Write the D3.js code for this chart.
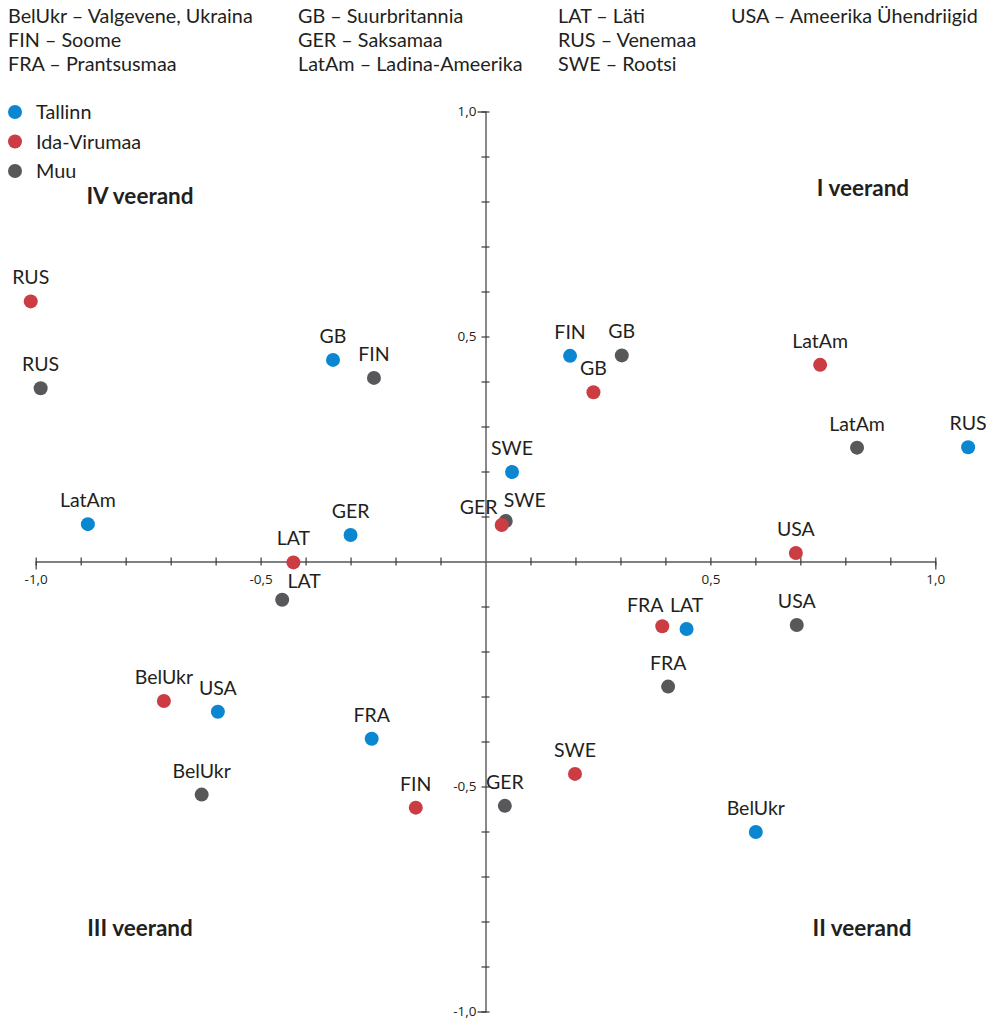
<!DOCTYPE html>
<html>
<head>
<meta charset="utf-8">
<script src="https://cdn.jsdelivr.net/npm/d3@7"></script>
<style>
  body { margin: 0; background: #fff; }
  svg text { font-family: Lato, "Open Sans", sans-serif; fill: #231f20; }
</style>
</head>
<body>
<div id="chart"></div>
<script>
// Legend for country abbreviations (4 columns)
var abbrevCols = [
  ["BelUkr – Valgevene, Ukraina", "FIN – Soome", "FRA – Prantsusmaa"],
  ["GB – Suurbritannia", "GER – Saksamaa", "LatAm – Ladina-Ameerika"],
  ["LAT – Läti", "RUS – Venemaa", "SWE – Rootsi"],
  ["USA – Ameerika Ühendriigid"]
];

var groups = ["Tallinn", "Ida-Virumaa", "Muu"];
var groupColors = ["#0a87d0", "#cc3d43", "#58585a"];

var quadrants = ["I veerand", "II veerand", "III veerand", "IV veerand"];

// tick values every 0.1, labels only at +-0.5 and +-1.0
var tickValues = [-1, -0.9, -0.8, -0.7, -0.6, -0.5, -0.4, -0.3, -0.2, -0.1,
                  0.1, 0.2, 0.3, 0.4, 0.5, 0.6, 0.7, 0.8, 0.9, 1];
var tickLabels = {"-1": "-1,0", "-0.5": "-0,5", "0.5": "0,5", "1": "1,0"};

// points per group: [country, x, y]
var tallinn = [
  ["RUS", 1.073, 0.254],
  ["SWE", 0.059, 0.199],
  ["FIN", 0.188, 0.457],
  ["GB", -0.339, 0.448],
  ["LatAm", -0.884, 0.083],
  ["GER", -0.300, 0.059],
  ["LAT", 0.447, -0.150],
  ["USA", -0.595, -0.334],
  ["FRA", -0.253, -0.394],
  ["BelUkr", 0.601, -0.601]
];
var idaVirumaa = [
  ["RUS", -1.011, 0.578],
  ["LatAm", 0.744, 0.437],
  ["GB", 0.240, 0.376],
  ["GER", 0.036, 0.081],
  ["USA", 0.690, 0.019],
  ["LAT", -0.427, -0.002],
  ["FRA", 0.393, -0.144],
  ["BelUkr", -0.715, -0.310],
  ["SWE", 0.199, -0.472],
  ["FIN", -0.155, -0.547]
];
var muu = [
  ["RUS", -0.989, 0.385],
  ["FIN", -0.248, 0.408],
  ["GB", 0.303, 0.458],
  ["LatAm", 0.826, 0.253],
  ["SWE", 0.045, 0.090],
  ["LAT", -0.452, -0.085],
  ["USA", 0.692, -0.141],
  ["FRA", 0.406, -0.278],
  ["BelUkr", -0.631, -0.518],
  ["GER", 0.043, -0.543]
];

// label nudges where the label is not straight above the point
var labelShift = {
  "Ida-Virumaa GER": [-23, 6],
  "Ida-Virumaa FRA": [-17, 3],
  "Muu SWE": [19, 3],
  "Muu LAT": [22, 5]
};

var svgWidth = 986, svgHeight = 1020;

var x = d3.scaleLinear().domain([-1, 1]).range([35.7, 935.3]);
var y = d3.scaleLinear().domain([-1, 1]).range([1011.5, 111.5]);

var svg = d3.select("#chart").append("svg")
  .attr("width", svgWidth)
  .attr("height", svgHeight);

// abbreviations at the top
var colX = [8, 298, 558, 731];
abbrevCols.forEach(function(col, i) {
  col.forEach(function(t, j) {
    svg.append("text")
      .attr("x", colX[i])
      .attr("y", 23 + j * 24)
      .style("font-size", "19.8px")
      .text(t);
  });
});

// group legend
groups.forEach(function(g, i) {
  svg.append("circle")
    .attr("cx", 15)
    .attr("cy", 112 + i * 29.5)
    .attr("r", 7)
    .attr("fill", groupColors[i]);
  svg.append("text")
    .attr("x", 36)
    .attr("y", 119 + i * 29.5)
    .style("font-size", "19.8px")
    .text(g);
});

// axes
var xAxis = svg.append("g")
  .attr("transform", "translate(0," + y(0) + ")")
  .call(d3.axisBottom(x).tickValues(tickValues).tickSizeOuter(0).tickSize(8)
    .tickFormat(function(d) { return tickLabels[String(+d.toFixed(1))] || ""; }));

var yAxis = svg.append("g")
  .attr("transform", "translate(" + x(0) + ",0)")
  .call(d3.axisLeft(y).tickValues(tickValues).tickSizeOuter(0).tickSize(8)
    .tickFormat(function(d) { return tickLabels[String(+d.toFixed(1))] || ""; }));

xAxis.selectAll(".tick line").attr("y1", -4).attr("y2", 4);
xAxis.selectAll(".tick text").attr("y", 13);
yAxis.selectAll(".tick line").attr("x1", -4).attr("x2", 4);
yAxis.selectAll(".tick text").attr("x", -9);

[xAxis, yAxis].forEach(function(a) {
  a.select(".domain").attr("stroke", "#58585a").attr("stroke-width", 1.4);
  a.selectAll(".tick line").attr("stroke", "#3a3a3a").attr("stroke-width", 1.2);
  a.selectAll(".tick text")
    .style("font-family", "'Open Sans', sans-serif")
    .style("font-size", "13.5px")
    .attr("fill", "#231f20");
});

// quadrant labels
var quadPos = [[863, 196], [862, 936], [140, 936], [140, 204]];
quadrants.forEach(function(q, i) {
  svg.append("text")
    .attr("x", quadPos[i][0])
    .attr("y", quadPos[i][1])
    .attr("text-anchor", "middle")
    .style("font-size", "22.5px")
    .style("font-weight", "bold")
    .text(q);
});

// points, grey first so red sits on top
var series = [
  {name: "Muu", data: muu, color: groupColors[2]},
  {name: "Tallinn", data: tallinn, color: groupColors[0]},
  {name: "Ida-Virumaa", data: idaVirumaa, color: groupColors[1]}
];

series.forEach(function(s) {
  var g = svg.append("g");
  g.selectAll("circle")
    .data(s.data)
    .enter().append("circle")
    .attr("cx", function(d) { return x(d[1]); })
    .attr("cy", function(d) { return y(d[2]); })
    .attr("r", 7)
    .attr("fill", s.color);
});

series.forEach(function(s) {
  svg.append("g").selectAll("text")
    .data(s.data)
    .enter().append("text")
    .attr("x", function(d) {
      var sh = labelShift[s.name + " " + d[0]];
      return x(d[1]) + (sh ? sh[0] : 0);
    })
    .attr("y", function(d) {
      var sh = labelShift[s.name + " " + d[0]];
      return y(d[2]) - 17 + (sh ? sh[1] : 0);
    })
    .attr("text-anchor", "middle")
    .style("font-size", "19.5px")
    .text(function(d) { return d[0]; });
});
</script>
</body>
</html>
